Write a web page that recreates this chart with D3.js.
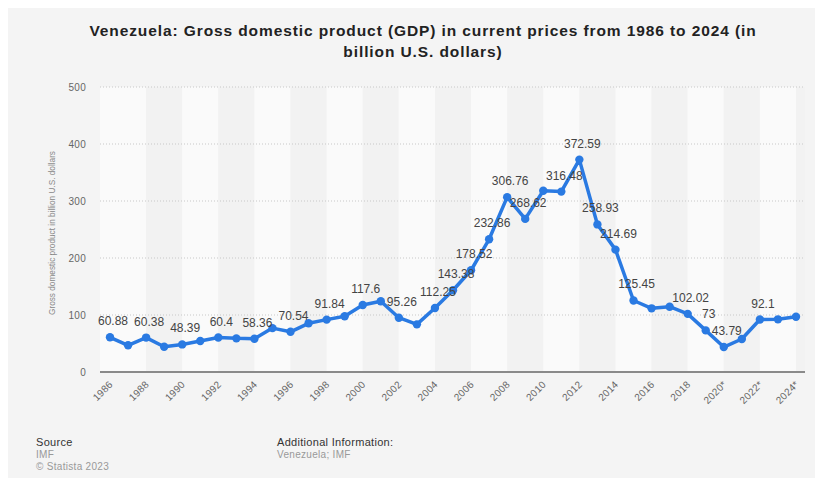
<!DOCTYPE html>
<html>
<head>
<meta charset="utf-8">
<script src="https://cdn.jsdelivr.net/npm/d3@7/dist/d3.min.js"></script>
<style>
  html, body { margin: 0; padding: 0; background: #ffffff; }
  svg { display: block; font-family: "Liberation Sans", Arial, Helvetica, sans-serif; }
</style>
</head>
<body>
<svg id="chart" width="823" height="486"></svg>
<script>
const years = ["1986","1987","1988","1989","1990","1991","1992","1993","1994","1995",
  "1996","1997","1998","1999","2000","2001","2002","2003","2004","2005",
  "2006","2007","2008","2009","2010","2011","2012","2013","2014","2015",
  "2016","2017","2018","2019","2020*","2021*","2022*","2023*","2024*"];
const gdp = [60.88, 46.8, 60.38, 44.4, 48.39, 54.4, 60.4, 59.0, 58.36, 77.0,
  70.54, 85.4, 91.84, 97.7, 117.6, 124.0, 95.26, 83.6, 112.25, 143.38,
  178.52, 232.86, 306.76, 268.62, 318.0, 316.48, 372.59, 258.93, 214.69, 125.45,
  111.7, 114.6, 102.02, 73, 43.79, 57.9, 92.1, 92.4, 97.0];
// labels displayed on the chart (null = hidden)
const shownLabels = ["60.88", null, "60.38", null, "48.39", null, "60.4", null, "58.36", null,
  "70.54", null, "91.84", null, "117.6", null, "95.26", null, "112.25", "143.38",
  "178.52", "232.86", "306.76", "268.62", null, "316.48", "372.59", "258.93", "214.69", "125.45",
  null, null, "102.02", "73", "43.79", null, "92.1", null, null];
const yTicks = [0, 100, 200, 300, 400, 500];
const titleLines = ["Venezuela: Gross domestic product (GDP) in current prices from 1986 to 2024 (in",
  "billion U.S. dollars)"];
const yAxisTitle = "Gross domestic product in billion U.S. dollars";

const svg = d3.select("#chart");
const W = 823, H = 486;
const plotLeft = 100, plotRight = 805, plotTop = 87, plotBottom = 372;

svg.append("rect").attr("x", 8).attr("y", 8).attr("width", W - 16).attr("height", H - 16)
  .attr("fill", "#f4f4f4");

const x = d3.scalePoint().domain(years).range([110, 796]);
const y = d3.scaleLinear().domain([0, 500]).range([plotBottom, plotTop]);

// alternating bands
const bands = svg.append("g");
for (let i = 0; i < years.length; i += 2) {
  const x0 = i === 0 ? plotLeft : x(years[i]);
  const x1 = i + 2 < years.length ? x(years[i + 2]) : plotRight;
  bands.append("rect").attr("x", x0).attr("y", plotTop).attr("width", x1 - x0)
    .attr("height", plotBottom - plotTop)
    .attr("fill", (i / 2) % 2 === 0 ? "#fafafa" : "#f2f2f2");
}

// grid lines
svg.append("g").selectAll("line").data(yTicks.filter(d => d > 0)).join("line")
  .attr("x1", plotLeft).attr("x2", plotRight)
  .attr("y1", d => y(d)).attr("y2", d => y(d))
  .attr("stroke", "#c8c8c8").attr("stroke-width", 1).attr("stroke-dasharray", "1,2");

// y axis labels
const yAxis = d3.axisLeft(y).tickValues(yTicks).tickSize(0).tickPadding(0);
const gy = svg.append("g").attr("transform", `translate(86,0)`).call(yAxis);
gy.select(".domain").remove();
gy.selectAll("text").attr("fill", "#666").style("font-size", "10px")
  .style("letter-spacing", "0.3px")
  .style("font-family", "Liberation Sans, Arial, sans-serif");

// x axis
const xTickVals = years.filter((d, i) => i % 2 === 0);
const xAxis = d3.axisBottom(x).tickValues(xTickVals).tickSize(0).tickPadding(0);
const gx = svg.append("g").attr("transform", `translate(0,${plotBottom})`).call(xAxis);
gx.select(".domain").remove();
gx.selectAll("text")
  .attr("fill", "#666").style("font-size", "10px")
  .style("letter-spacing", "0.3px")
  .style("font-family", "Liberation Sans, Arial, sans-serif")
  .attr("text-anchor", "end").attr("dy", null).attr("y", 0)
  .attr("transform", "translate(3,13) rotate(-45)");

svg.append("line").attr("x1", plotLeft).attr("x2", plotRight)
  .attr("y1", plotBottom).attr("y2", plotBottom)
  .attr("stroke", "#8a8a8a").attr("stroke-width", 2);

// y axis title
svg.append("text").attr("transform", `translate(55,233) rotate(-90)`)
  .attr("text-anchor", "middle").attr("fill", "#888").style("font-size", "9.5px")
  .attr("textLength", 164).attr("lengthAdjust", "spacingAndGlyphs")
  .text(yAxisTitle);

// line
const line = d3.line().x((d, i) => x(years[i])).y(d => y(d));
svg.append("path").datum(gdp).attr("d", line).attr("fill", "none")
  .attr("stroke", "#2a7ae2").attr("stroke-width", 3.5).attr("stroke-linejoin", "round");
svg.append("g").selectAll("circle").data(gdp).join("circle")
  .attr("cx", (d, i) => x(years[i])).attr("cy", d => y(d)).attr("r", 4.2)
  .attr("fill", "#2a7ae2");

// data labels
svg.append("g").selectAll("text").data(gdp.map((v, i) => ({v, i, t: shownLabels[i]})).filter(d => d.t))
  .join("text")
  .attr("x", d => x(years[d.i]) + 3).attr("y", d => y(d.v) - 12)
  .attr("text-anchor", "middle").attr("fill", "#444").style("font-size", "12px")
  .text(d => d.t);

// title
svg.append("g").selectAll("text").data(titleLines).join("text")
  .attr("x", 423).attr("y", (d, i) => 36 + i * 20.5)
  .attr("text-anchor", "middle").attr("fill", "#222")
  .style("font-size", "15.5px").style("font-weight", "bold")
  .style("letter-spacing", "0.9px")
  .text(d => d);

// footer
svg.append("text").attr("x", 36).attr("y", 446).attr("fill", "#333").style("font-size", "11px").style("letter-spacing", "0.3px").text("Source");
svg.append("text").attr("x", 36).attr("y", 458).attr("fill", "#999").style("font-size", "10px").style("letter-spacing", "0.3px").text("IMF");
svg.append("text").attr("x", 36).attr("y", 470).attr("fill", "#999").style("font-size", "10px").style("letter-spacing", "0.3px").text("© Statista 2023");
svg.append("text").attr("x", 277).attr("y", 446).attr("fill", "#333").style("font-size", "11px").style("letter-spacing", "0.3px").text("Additional Information:");
svg.append("text").attr("x", 277).attr("y", 458).attr("fill", "#999").style("font-size", "10px").style("letter-spacing", "0.3px").text("Venezuela; IMF");
</script>
</body>
</html>
